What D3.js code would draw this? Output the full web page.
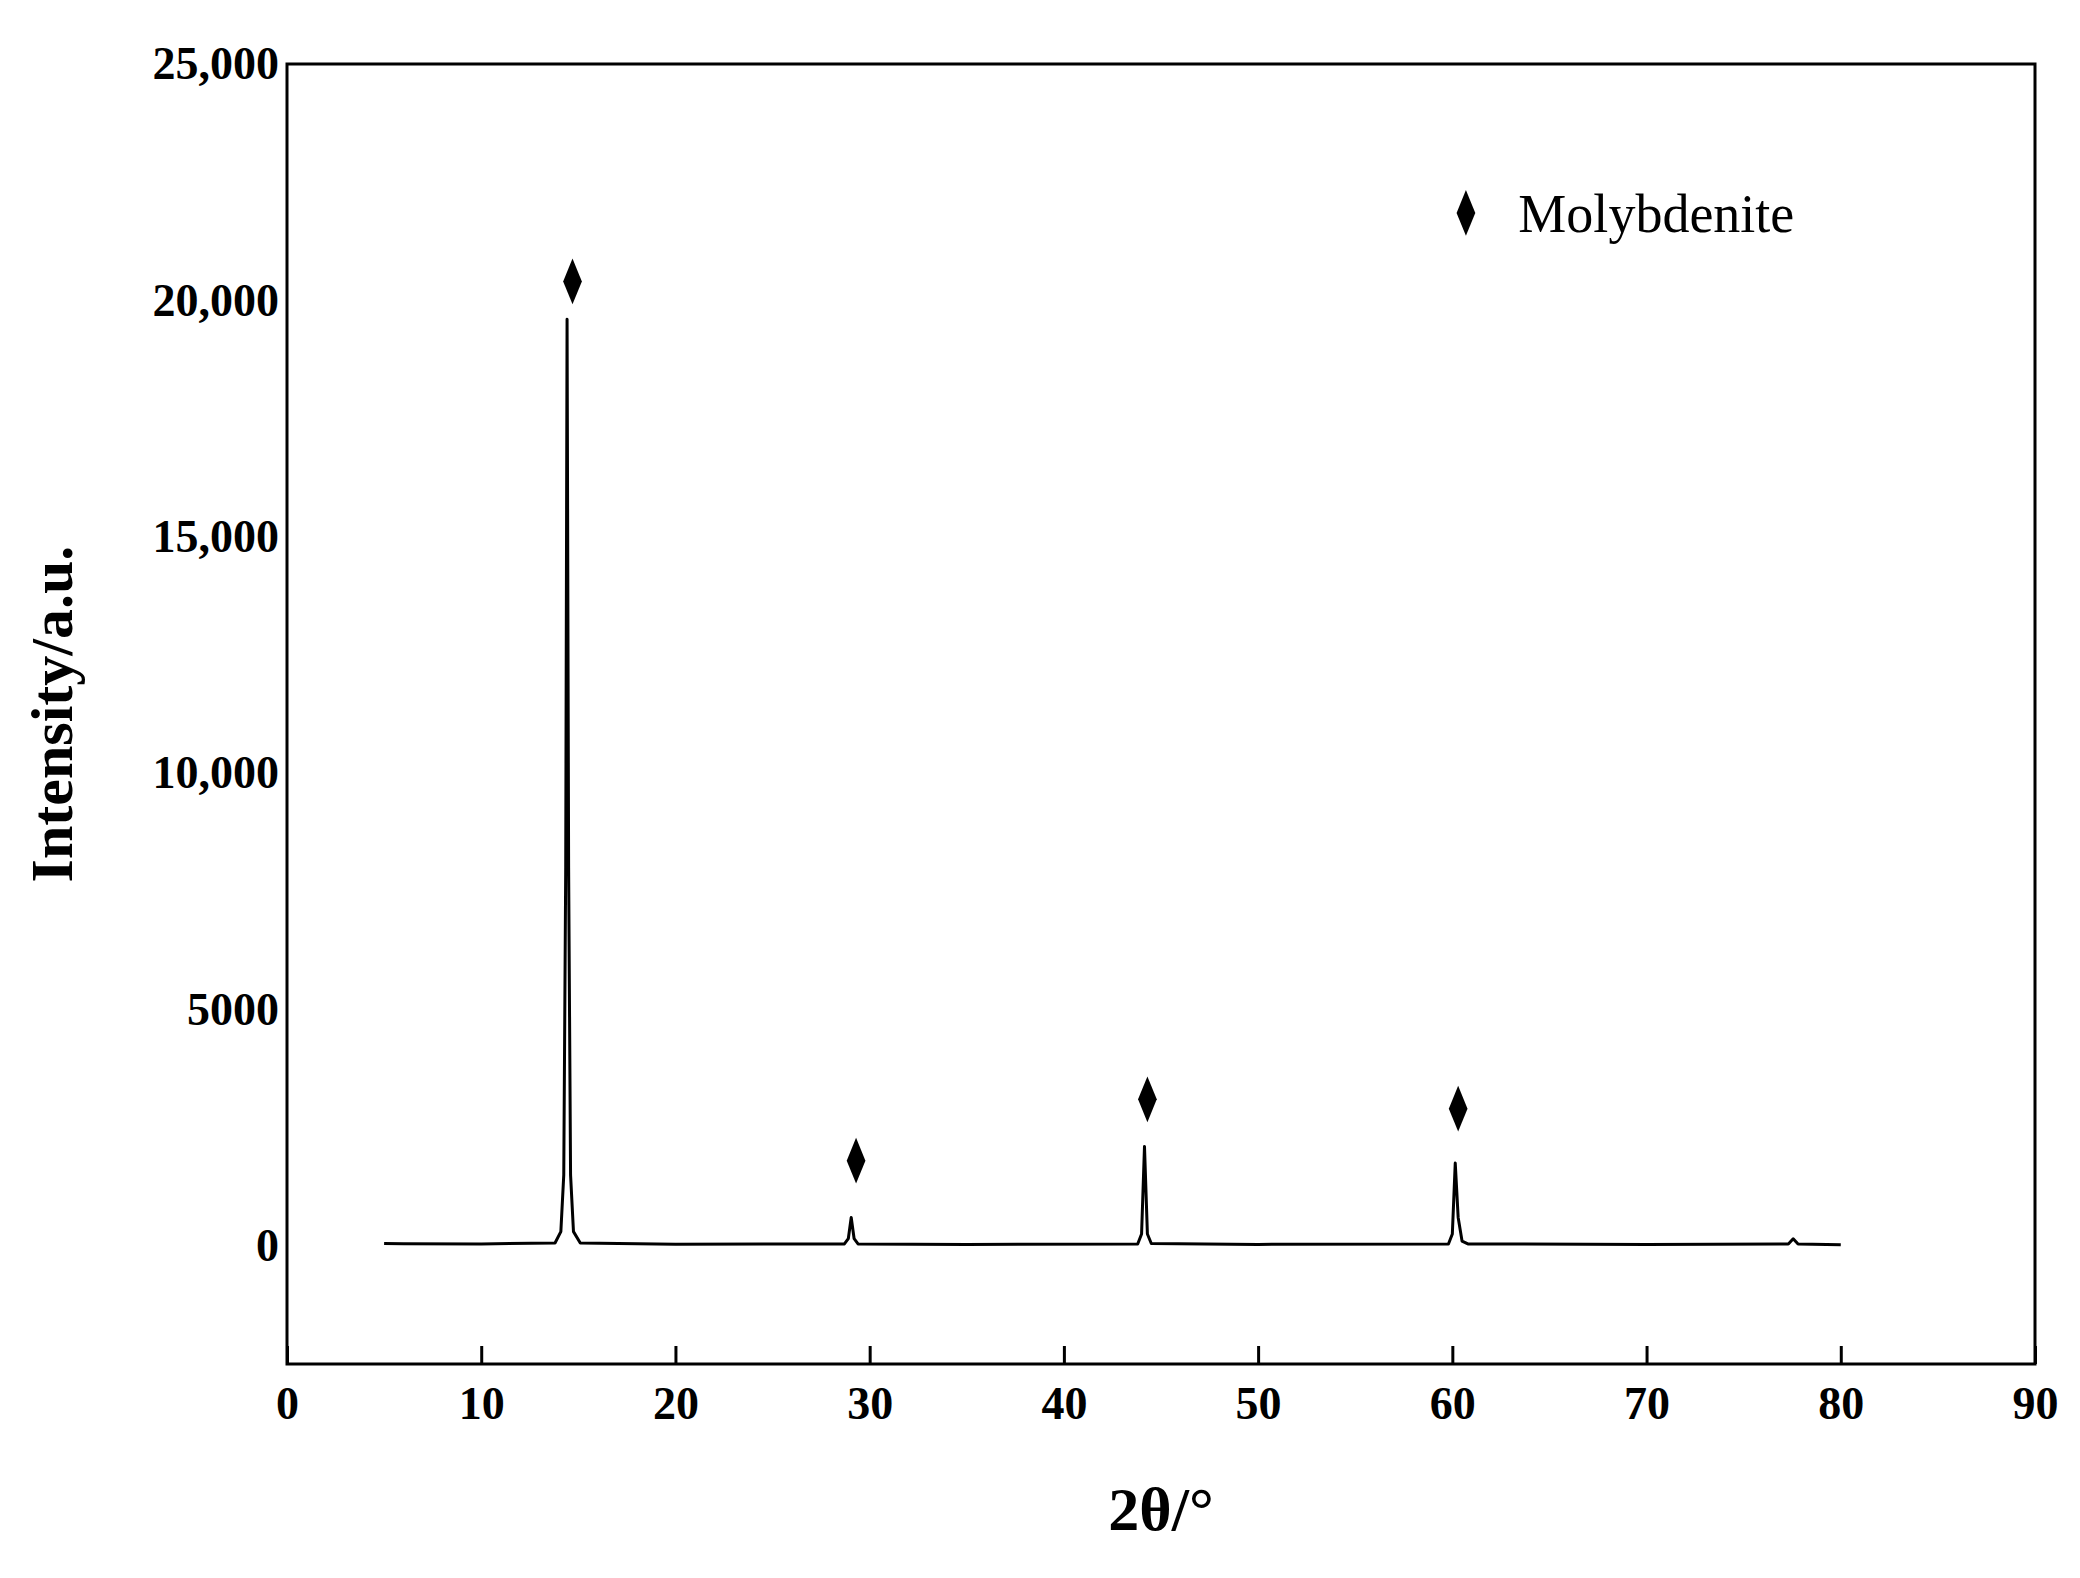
<!DOCTYPE html>
<html>
<head>
<meta charset="utf-8">
<script src="https://d3js.org/d3.v7.min.js"></script>
<style>
  body { margin: 0; background: #fff; }
  text { font-family: "Liberation Serif", "Times New Roman", serif; }
</style>
</head>
<body>
<svg id="chart" width="2080" height="1578"></svg>
<script>
// XRD pattern
var twoTheta = [5, 6, 10, 13.8, 14.1, 14.25, 14.35, 14.42, 14.5, 14.6, 14.75, 15.1, 20, 28.7, 28.9, 29.05, 29.2, 29.4, 35,
                43.8, 44.0, 44.15, 44.3, 44.5, 50, 59.8, 60.0, 60.15, 60.3, 60.5, 60.8, 70, 77.3, 77.55, 77.8, 80];
var intensity = [50, 45, 40, 60, 300, 1500, 8000, 19600, 8000, 1500, 300, 60, 35, 40, 150, 600, 150, 40, 30,
                 40, 250, 2100, 250, 50, 30, 40, 250, 1750, 600, 100, 40, 30, 40, 150, 40, 20];
var markerX = [14.7, 29.3, 44.3, 60.3];
var markerY = [20400, 1800, 3100, 2900];
var xTicks = [0, 10, 20, 30, 40, 50, 60, 70, 80, 90];
var yTicks = [0, 5000, 10000, 15000, 20000, 25000];
var yTickLabels = ["0", "5000", "10,000", "15,000", "20,000", "25,000"];
var legendLabel = "Molybdenite";

var svg = d3.select("#chart");
var mLeft = 287, mRight = 2035, mTop = 64, mBottom = 1364;

var x = d3.scaleLinear().domain([0, 90]).range([mLeft, mRight]);
var y = d3.scaleLinear().domain([-2500, 25000]).range([mBottom, mTop]);

// frame
svg.append("rect")
  .attr("x", mLeft).attr("y", mTop)
  .attr("width", mRight - mLeft).attr("height", mBottom - mTop)
  .attr("fill", "none").attr("stroke", "#000").attr("stroke-width", 3);

var xAxis = svg.append("g")
  .attr("transform", "translate(0," + mBottom + ")")
  .call(d3.axisBottom(x).tickValues(xTicks).tickSize(-18).tickPadding(22));
xAxis.select(".domain").remove();
xAxis.selectAll("line").attr("stroke-width", 3);
xAxis.selectAll("text").attr("font-size", 46).attr("font-weight", "bold")
  .attr("font-family", "Liberation Serif").attr("fill", "#000");

var yAxis = svg.append("g")
  .attr("transform", "translate(" + mLeft + ",0)")
  .call(d3.axisLeft(y).tickValues(yTicks).tickSize(0).tickPadding(8)
    .tickFormat(function (d, i) { return yTickLabels[i]; }));
yAxis.select(".domain").remove();
yAxis.selectAll("text").attr("font-size", 46).attr("font-weight", "bold")
  .attr("font-family", "Liberation Serif").attr("fill", "#000");

// pattern line
var pts = twoTheta.map(function (d, i) { return [d, intensity[i]]; });
svg.append("path")
  .datum(pts)
  .attr("fill", "none").attr("stroke", "#000").attr("stroke-width", 3)
  .attr("stroke-linejoin", "round")
  .attr("d", d3.line().x(function (d) { return x(d[0]); }).y(function (d) { return y(d[1]); }));

// peak markers
var diamond = d3.symbol().type(d3.symbolDiamond).size(420);
svg.selectAll(".mk").data(markerX).enter().append("path")
  .attr("transform", function (d, i) { return "translate(" + x(d) + "," + y(markerY[i]) + ") scale(0.85,1.2)"; })
  .attr("d", diamond).attr("fill", "#000");

// legend
svg.append("path")
  .attr("transform", "translate(" + x(60.7) + "," + y(21850) + ") scale(0.85,1.2)")
  .attr("d", diamond).attr("fill", "#000");
svg.append("text")
  .attr("x", x(63.4)).attr("y", y(21850)).attr("dy", "0.35em")
  .attr("font-size", 54).attr("fill", "#000").text(legendLabel);

// axis titles
svg.append("text")
  .attr("transform", "translate(72," + (mTop + mBottom) / 2 + ") rotate(-90)")
  .attr("text-anchor", "middle").attr("font-size", 60).attr("font-weight", "bold")
  .text("Intensity/a.u.");
svg.append("text")
  .attr("x", x(45)).attr("y", 1530).attr("text-anchor", "middle")
  .attr("font-size", 62).attr("font-weight", "bold").text("2θ/°");
</script>
</body>
</html>
